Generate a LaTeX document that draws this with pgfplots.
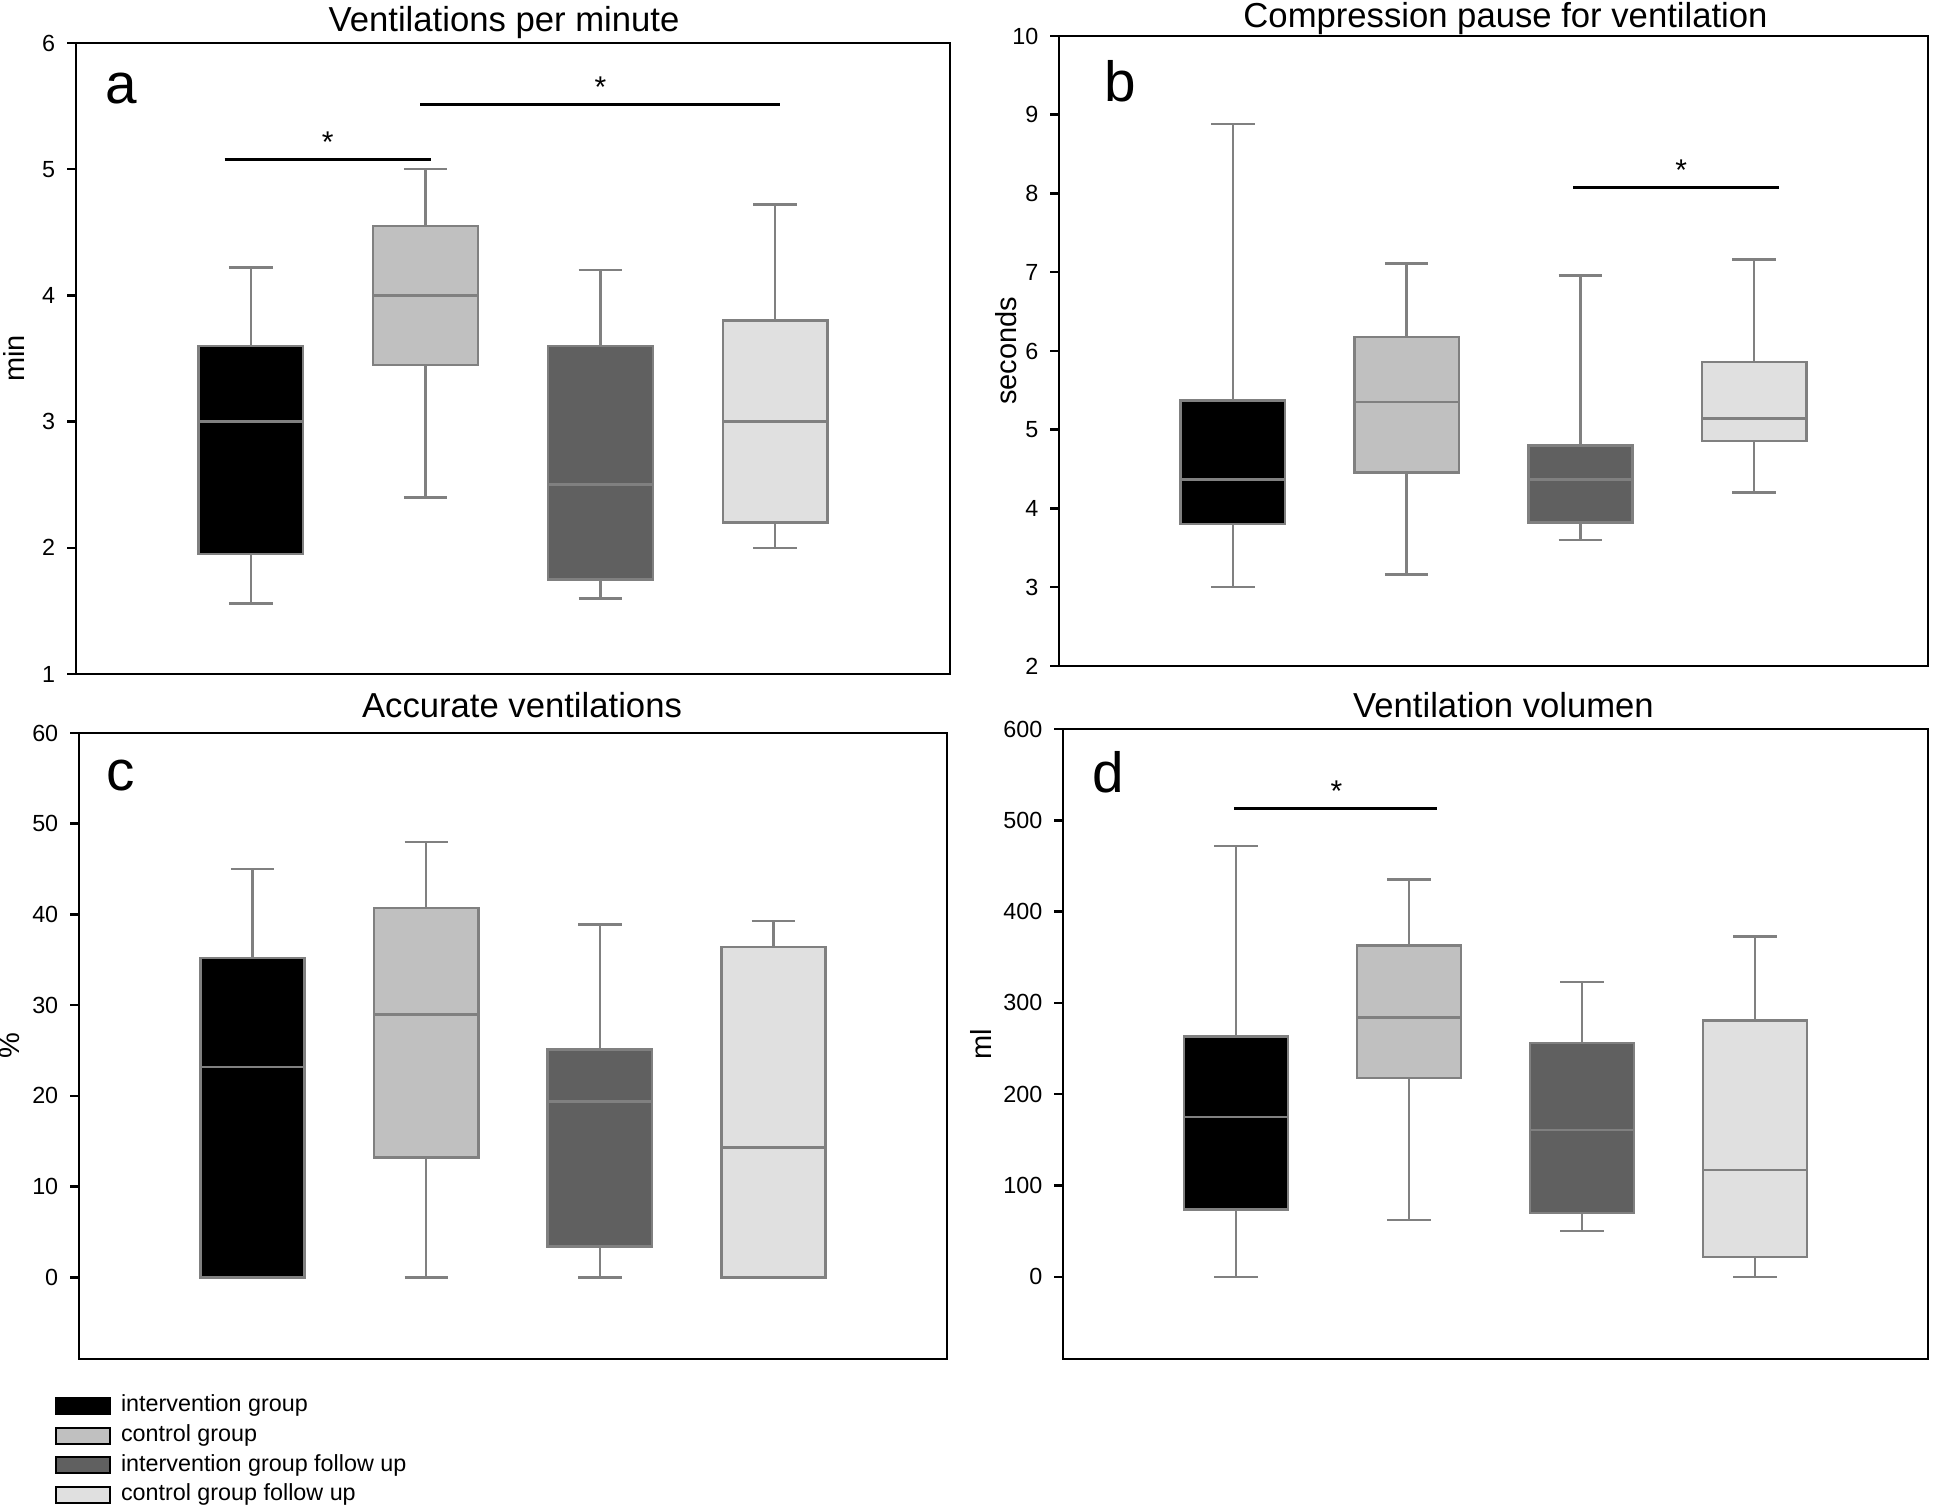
\documentclass[border=0pt]{standalone}
\usepackage{pgfplots}
\pgfplotsset{compat=1.18}
\usepackage{pgfplotstable}
\usepackage{fontspec}
\setmainfont{Liberation Sans}

\definecolor{boxgray}{HTML}{808080}
\definecolor{ctrl}{HTML}{C0C0C0}
\definecolor{intfu}{HTML}{606060}
\definecolor{ctrlfu}{HTML}{E0E0E0}

% lower whisker, lower quartile, median, upper quartile, upper whisker
\pgfplotstableread{
pos lw lq med uq uw
1 1.56 1.95 3.00 3.60 4.22
2 2.40 3.45 4.00 4.55 5.00
3 1.60 1.75 2.50 3.60 4.20
4 2.00 2.20 3.00 3.80 4.72
}\vpmtab
\pgfplotstableread{
pos lw lq med uq uw
1 3.00 3.80 4.37 5.37 8.88
2 3.16 4.46 5.35 6.18 7.11
3 3.60 3.82 4.37 4.80 6.96
4 4.20 4.86 5.14 5.86 7.16
}\pausetab
\pgfplotstableread{
pos lw lq med uq uw
1 0 0.0 23.2 35.2 45.0
2 0 13.2 29.0 40.7 48.0
3 0 3.4 19.4 25.1 38.9
4 0 0.0 14.3 36.4 39.3
}\accurtab
\pgfplotstableread{
pos lw lq med uq uw
1 0 74 175 263 472
2 62 218 284 363 435
3 50 70 161 256 323
4 0 22 117 281 373
}\voltab

% one box from row #2 of table #1, filled with #3
\newcommand{\gbox}[3]{%
  \pgfplotstablegetelem{#2}{pos}\of{#1}\let\bP\pgfplotsretval
  \pgfplotstablegetelem{#2}{lw}\of{#1}\let\bLW\pgfplotsretval
  \pgfplotstablegetelem{#2}{lq}\of{#1}\let\bLQ\pgfplotsretval
  \pgfplotstablegetelem{#2}{med}\of{#1}\let\bMED\pgfplotsretval
  \pgfplotstablegetelem{#2}{uq}\of{#1}\let\bUQ\pgfplotsretval
  \pgfplotstablegetelem{#2}{uw}\of{#1}\let\bUW\pgfplotsretval
  \pgfmathsetmacro\bL{\bP-0.3}\pgfmathsetmacro\bR{\bP+0.3}%
  \pgfmathsetmacro\cL{\bP-0.125}\pgfmathsetmacro\cR{\bP+0.125}%
  \edef\tmp{%
    \noexpand\addplot[bx] coordinates {(\bP,\bLW) (\bP,\bLQ)};
    \noexpand\addplot[bx] coordinates {(\bP,\bUQ) (\bP,\bUW)};
    \noexpand\addplot[bx] coordinates {(\cL,\bLW) (\cR,\bLW)};
    \noexpand\addplot[bx] coordinates {(\cL,\bUW) (\cR,\bUW)};
    \noexpand\addplot[bx, fill=#3] coordinates
      {(\bL,\bLQ) (\bR,\bLQ) (\bR,\bUQ) (\bL,\bUQ)} -- cycle;
    \noexpand\addplot[bx] coordinates {(\bL,\bMED) (\bR,\bMED)};
  }\tmp}

\pgfplotsset{
  panel/.style={
    scale only axis, anchor=north west,
    xmin=0, xmax=5, xtick=\empty,
    ytick pos=left, tick align=outside, major tick length=2.7pt,
    tick style={black, line width=0.75pt},
    axis line style={line width=0.75pt},
    tick label style={font=\fontsize{7}{8}\selectfont},
    /pgf/number format/assume math mode=true,
    every axis title shift=0pt,
    title style={at={(0.5,1)}, anchor=base, font=\fontsize{10.4}{12}\selectfont},
    ylabel style={anchor=center, font=\fontsize{8.7}{10}\selectfont},
  },
  bx/.style={forget plot, draw=boxgray, line width=0.75pt, line join=miter},
  sig/.style={forget plot, black, line width=0.9pt},
}

\begin{document}
\begin{tikzpicture}
\useasboundingbox (0,0) rectangle (582.6pt,-451.8pt);

% a
\begin{axis}[panel, at={(22.8pt,-12.9pt)}, width=262.2pt, height=189.3pt,
  ymin=1, ymax=6, ytick={1,2,3,4,5,6},
  title={Ventilations per minute}, title style={yshift=3.5pt, xshift=-2.7pt},
  ylabel={min}, ylabel style={at={(axis description cs:-0.0704,0.5)}}]
\gbox{\vpmtab}{0}{black}
\gbox{\vpmtab}{1}{ctrl}
\gbox{\vpmtab}{2}{intfu}
\gbox{\vpmtab}{3}{ctrlfu}
\addplot[sig] coordinates {(0.85,5.075) (2.03,5.075)};
\addplot[sig] coordinates {(1.97,5.51) (4.03,5.51)};
\node[font=\fontsize{9}{9}\selectfont, yshift=-1.5pt] at (axis cs:1.44,5.25) {*};
\node[font=\fontsize{9}{9}\selectfont, yshift=-1.5pt] at (axis cs:3.0,5.69) {*};
\node[font=\fontsize{17}{17}\selectfont] at (axis cs:0.26,5.64) {a};
\end{axis}

% b
\begin{axis}[panel, at={(317.7pt,-10.8pt)}, width=260.7pt, height=189pt,
  ymin=2, ymax=10, ytick={2,3,4,5,6,7,8,9,10},
  title={Compression pause for ventilation}, title style={yshift=2.5pt, xshift=3.6pt},
  ylabel={seconds}, ylabel style={at={(axis description cs:-0.061,0.5)}}]
\gbox{\pausetab}{0}{black}
\gbox{\pausetab}{1}{ctrl}
\gbox{\pausetab}{2}{intfu}
\gbox{\pausetab}{3}{ctrlfu}
\addplot[sig] coordinates {(2.96,8.08) (4.14,8.08)};
\node[font=\fontsize{9}{9}\selectfont, yshift=-1.5pt] at (axis cs:3.58,8.36) {*};
\node[font=\fontsize{17}{17}\selectfont] at (axis cs:0.35,9.43) {b};
\end{axis}

% c
\begin{axis}[panel, at={(23.7pt,-219.9pt)}, width=260.4pt, height=187.8pt,
  ymin=-9, ymax=60, ytick={0,10,20,30,40,50,60},
  title={Accurate ventilations}, title style={yshift=4.8pt, xshift=2.7pt},
  ylabel={\%}, ylabel style={at={(axis description cs:-0.0795,0.5)}},
  legend image code/.code={\draw[#1, draw=black, line width=0.6pt]
    (0pt,-2.4pt) rectangle (16.2pt,2.4pt);},
  legend style={at={(axis description cs:-0.0288,-0.146)}, anchor=west,
    draw=none, fill=none, inner sep=0pt, font=\fontsize{7}{8}\selectfont,
    cells={anchor=west}, row sep=2.1pt,
    /tikz/every odd column/.append style={column sep=1.1pt},
    nodes={inner ysep=0pt, text height=5.2pt, text depth=1.6pt}}]
\gbox{\accurtab}{0}{black}
\gbox{\accurtab}{1}{ctrl}
\gbox{\accurtab}{2}{intfu}
\gbox{\accurtab}{3}{ctrlfu}
\node[font=\fontsize{17}{17}\selectfont] at (axis cs:0.24,55.3) {c};
\addlegendimage{fill=black}
\addlegendentry{intervention group}
\addlegendimage{fill=ctrl}
\addlegendentry{control group}
\addlegendimage{fill=intfu}
\addlegendentry{intervention group follow up}
\addlegendimage{fill=ctrlfu}
\addlegendentry{control group follow up}
\end{axis}

% d
\begin{axis}[panel, at={(318.9pt,-218.7pt)}, width=259.5pt, height=189pt,
  ymin=-90, ymax=600, ytick={0,100,200,300,400,500,600},
  title={Ventilation volumen}, title style={yshift=3.6pt, xshift=2.4pt},
  ylabel={ml}, ylabel style={at={(axis description cs:-0.0948,0.5)}}]
\gbox{\voltab}{0}{black}
\gbox{\voltab}{1}{ctrl}
\gbox{\voltab}{2}{intfu}
\gbox{\voltab}{3}{ctrlfu}
\addplot[sig] coordinates {(0.99,512.5) (2.16,512.5)};
\node[font=\fontsize{9}{9}\selectfont, yshift=-1.5pt] at (axis cs:1.58,537) {*};
\node[font=\fontsize{17}{17}\selectfont] at (axis cs:0.26,553) {d};
\end{axis}
\end{tikzpicture}
\end{document}
